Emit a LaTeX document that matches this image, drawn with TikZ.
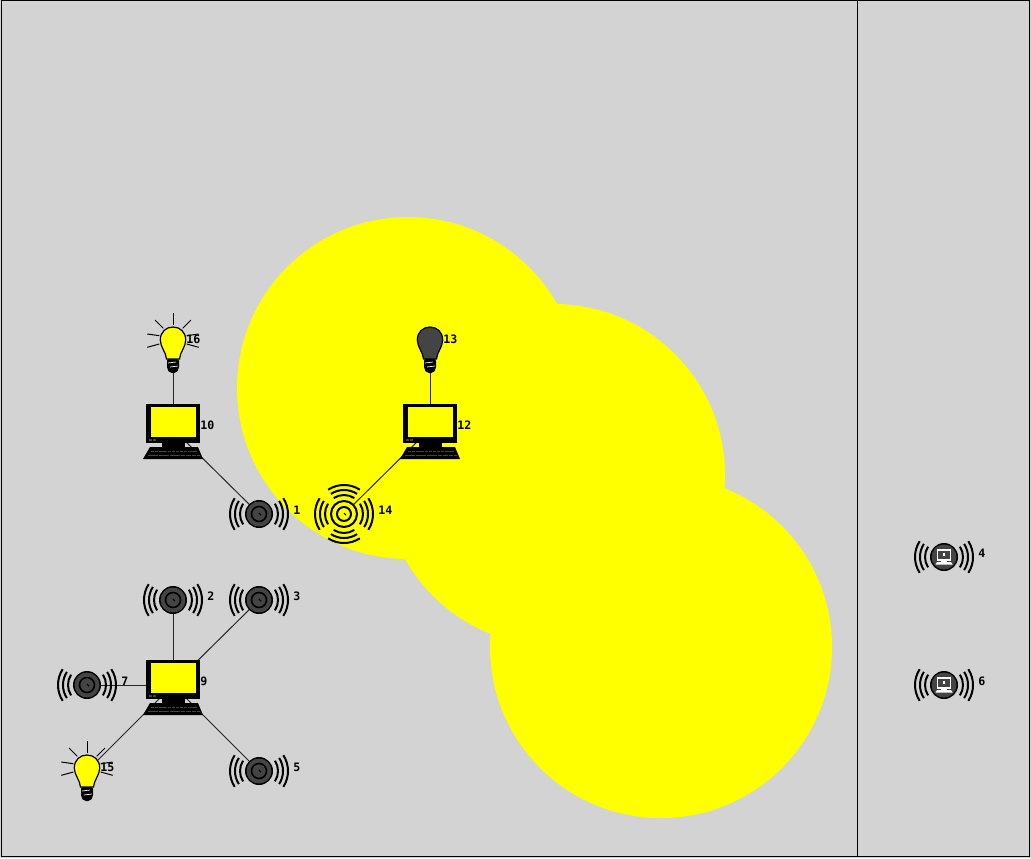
\documentclass[tikz,border=0pt]{standalone}
\usepackage{fontspec}
\newfontfamily\numfont{DejaVu Sans Mono}
\usepackage{xcolor}
\definecolor{panelgray}{RGB}{211,211,211}
\definecolor{darkbody}{RGB}{68,68,68}
\definecolor{rangeyellow}{RGB}{255,255,0}
\usetikzlibrary{positioning}

\begin{document}
\begin{tikzpicture}[
    x=0.75pt, y=-0.75pt,
    spot/.style={circle, inner sep=0pt, minimum size=0pt},
    num/.style={anchor=west, inner sep=0pt, font=\numfont\bfseries\fontsize{8.7}{9}\selectfont},
    link/.style={draw=black!85, line width=0.75pt},
    wave/.style={draw=black, line width=1.5pt},
    rangedisc/.style={circle, fill=rangeyellow, inner sep=0pt, minimum size=256.5pt},
    pics/radiowaves/.style={code={
        \foreach \r in {19,24,29} {
            \draw[wave] (147:\r) arc[start angle=147, end angle=213, radius=\r];
            \draw[wave] (-33:\r) arc[start angle=-33, end angle=33, radius=\r];
        }
    }},
    pics/sensor/.style={code={
        \pic {radiowaves};
        \fill[black] (0,0) circle[radius=14];
        \fill[darkbody] (0,0) circle[radius=12.5];
        \draw[black, line width=1.2pt] (0,0) circle[radius=7.5];
        \draw[black, line width=0.8pt] (0,-1) -- (2,1);
    }},
    pics/pulsar/.style={code={
        \pic {radiowaves};
        \foreach \r in {19,24,29} {
            \draw[wave] (57:\r) arc[start angle=57, end angle=123, radius=\r];
            \draw[wave] (-123:\r) arc[start angle=-123, end angle=-57, radius=\r];
        }
        \draw[black, line width=1.5pt, fill=rangeyellow] (0,0) circle[radius=13];
        \draw[black, line width=1.5pt] (0,0) circle[radius=7];
        \draw[black, line width=0.8pt] (0,-1) -- (2,1);
    }},
    pics/station/.style={code={
        \pic {radiowaves};
        \fill[black] (0,0) circle[radius=14];
        \fill[darkbody] (0,0) circle[radius=12.5];
        \draw[white, line width=1pt] (-6.5,-7) rectangle (6.5,3);
        \draw[white, line width=0.8pt] (0,-4.5) -- (0,-1);
        \fill[white] (-3,3) rectangle (3,5);
        \fill[white] (-7,5) -- (7,5) -- (8.5,7.5) -- (-8.5,7.5) -- cycle;
    }},
    pics/computer/.style={code={
        \fill[black] (-27,-25) rectangle (27,14);
        \fill[rangeyellow] (-22,-22) rectangle (22.5,8);
        \fill[black] (-11,14) rectangle (12,18);
        \fill[black] (-23,18) -- (25,18) -- (30,30) -- (-30,30) -- cycle;
        \draw[darkbody, line width=0.5pt, dash pattern=on 2.5pt off 0.6pt] (-22,22) -- (24,22);
        \draw[darkbody, line width=0.5pt, dash pattern=on 3.5pt off 0.6pt] (-25,26) -- (27,26);
        \fill[darkbody] (-24,10) rectangle (-21.5,12);
        \fill[darkbody] (-20,10) rectangle (-17.5,12);
    }},
    pics/bulb/.style={code={
        \fill[black, rounded corners=1.5pt] (-6,16) -- (6,16) -- (6,26) -- (3,30) -- (-3,30) -- (-6,26) -- cycle;
        \draw[white, line width=0.5pt] (-5,20) -- (3,19);
        \draw[white, line width=0.5pt] (-3,24) -- (5,23);
        \draw[black, line width=0.9pt, fill=#1] (-6.5,16)
            .. controls (-7,9) and (-12.7,4) .. (-12.7,-3)
            .. controls (-12.7,-11) and (-7,-16) .. (0,-16)
            .. controls (7,-16) and (12.7,-11) .. (12.7,-3)
            .. controls (12.7,4) and (7,9) .. (6.5,16) -- cycle;
    }},
    pics/rays/.style={code={
        \draw[black, line width=0.75pt] (0,-30) -- (0,-18);
        \draw[black, line width=0.75pt] (-18,-23) -- (-9.7,-14.7);
        \draw[black, line width=0.75pt] (18,-23) -- (9.7,-14.7);
        \draw[black, line width=0.75pt] (-25.7,-9) -- (-13.7,-7.3);
        \draw[black, line width=0.75pt] (25.7,-9) -- (13.7,-7.3);
        \draw[black, line width=0.75pt] (-25.7,4.3) -- (-13.7,1);
        \draw[black, line width=0.75pt] (25.7,4.3) -- (13.7,1);
    }},
]
\useasboundingbox (0,0) rectangle (1031,858);

% Panel
\fill[panelgray] (0,0) rectangle (1031,858);

% Range discs
\node[rangedisc] (disc1) at (408,388) {};
\node[rangedisc] (disc2) at (554,475) {};
\node[rangedisc] (disc3) at (661,647) {};

% Frame and divider
\draw[black, line width=0.85pt] (1.8,0.5) rectangle (1029.5,856.2);
\draw[black, line width=0.75pt] (857.5,0.5) -- (857.5,856.2);

% Node centres
\node[spot] (n1) at (259,514) {};
\node[spot] (n2) at (173,600) {};
\node[spot] (n3) at (259,600) {};
\node[spot] (n4) at (944,557) {};
\node[spot] (n5) at (259,771) {};
\node[spot] (n6) at (944,685) {};
\node[spot] (n7) at (87,685) {};
\node[spot] (n9) at (173,685) {};
\node[spot] (n10) at (173,429) {};
\node[spot] (n12) at (430,429) {};
\node[spot] (n13) at (430,343) {};
\node[spot] (n14) at (344,514) {};
\node[spot] (n15) at (87,771) {};
\node[spot] (n16) at (173,343) {};

% Links
\draw[link] (n10) -- (n16);
\draw[link] (n10) -- (n1);
\draw[link] (n12) -- (n13);
\draw[link] (n12) -- (n14);
\draw[link] (n9) -- (n2);
\draw[link] (n9) -- (n3);
\draw[link] (n9) -- (n5);
\draw[link] (n9) -- (n7);
\draw[link] (n9) -- (n15);

% Sensors
\pic at (n1) {sensor};
\pic at (n2) {sensor};
\pic at (n3) {sensor};
\pic at (n5) {sensor};
\pic at (n7) {sensor};
\pic at (n14) {pulsar};
\pic at (n4) {station};
\pic at (n6) {station};

% Computers
\pic at (n9) {computer};
\pic at (n10) {computer};
\pic at (n12) {computer};

% Bulbs
\pic at (n13) {bulb=darkbody};
\pic at (n15) {bulb=rangeyellow};
\pic at (n15) {rays};
\pic at (n16) {bulb=rangeyellow};
\pic at (n16) {rays};

% Numbers
\node[num] (lab1) at (293,510) {1};
\node[num] (lab2) at (207,596) {2};
\node[num] (lab3) at (293,596) {3};
\node[num] (lab4) at (978,553) {4};
\node[num] (lab5) at (293,767) {5};
\node[num] (lab6) at (978,681) {6};
\node[num] (lab7) at (121,681) {7};
\node[num] (lab9) at (200,681) {9};
\node[num] (lab10) at (200,425) {10};
\node[num] (lab12) at (457,425) {12};
\node[num] (lab13) at (443,339) {13};
\node[num] (lab14) at (378,510) {14};
\node[num] (lab15) at (100,767) {15};
\node[num] (lab16) at (186,339) {16};

\end{tikzpicture}
\end{document}
